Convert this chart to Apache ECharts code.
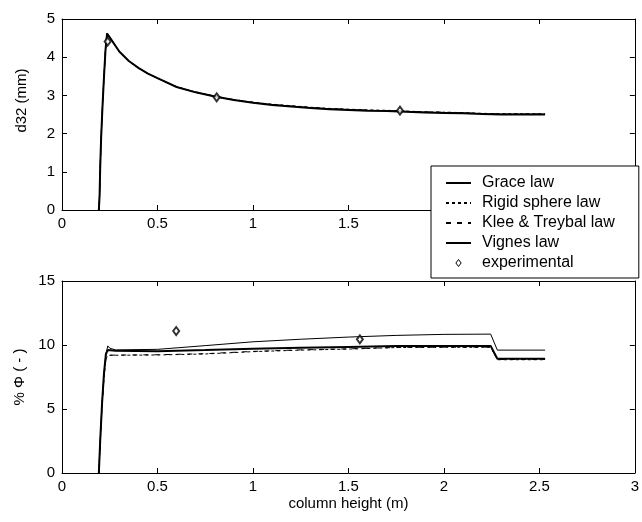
<!DOCTYPE html>
<html>
<head>
<meta charset="utf-8">
<script src="https://cdn.jsdelivr.net/npm/echarts@6/dist/echarts.min.js"></script>
<style>
  html, body { margin: 0; padding: 0; background: #fff; }
  #chart { width: 642px; height: 522px; }
</style>
</head>
<body>
<div id="chart"></div>
<script>
// top panel: d32 versus column height
var d32X = [0.193, 0.197, 0.2, 0.205, 0.212, 0.22, 0.228, 0.236, 0.25, 0.3, 0.35, 0.4, 0.45, 0.5, 0.6, 0.7, 0.8, 0.9, 1.0, 1.1, 1.2, 1.3, 1.4, 1.5, 1.6, 1.7, 1.8, 1.9, 2.0, 2.1, 2.2, 2.3, 2.4, 2.53]
var d32Grace = [0, 0.4, 1.1, 1.9, 2.7, 3.5, 4.2, 4.62, 4.52, 4.15, 3.9, 3.72, 3.57, 3.45, 3.22, 3.08, 2.97, 2.88, 2.81, 2.76, 2.72, 2.68, 2.65, 2.63, 2.61, 2.6, 2.58, 2.56, 2.55, 2.54, 2.52, 2.51, 2.51, 2.51]
var d32Rigid = [0, 0.4, 1.1, 1.9, 2.7, 3.5, 4.2, 4.62, 4.52, 4.15, 3.9, 3.72, 3.57, 3.45, 3.23, 3.09, 2.98, 2.89, 2.82, 2.77, 2.73, 2.69, 2.66, 2.64, 2.62, 2.61, 2.59, 2.57, 2.56, 2.55, 2.53, 2.52, 2.52, 2.52]
var d32Klee = [0, 0.4, 1.1, 1.9, 2.7, 3.5, 4.2, 4.62, 4.52, 4.15, 3.9, 3.72, 3.57, 3.45, 3.22, 3.09, 2.98, 2.89, 2.82, 2.76, 2.72, 2.68, 2.65, 2.63, 2.61, 2.6, 2.58, 2.57, 2.56, 2.54, 2.52, 2.51, 2.51, 2.51]
var d32Vignes = [0, 0.4, 1.1, 1.9, 2.7, 3.5, 4.2, 4.62, 4.52, 4.15, 3.9, 3.72, 3.57, 3.45, 3.22, 3.08, 2.97, 2.88, 2.81, 2.75, 2.71, 2.67, 2.64, 2.62, 2.6, 2.59, 2.57, 2.55, 2.54, 2.53, 2.51, 2.5, 2.5, 2.5]
var d32ExpX = [0.239, 0.81, 1.77]
var d32ExpY = [4.41, 2.95, 2.6]

// bottom panel: hold-up versus column height
var phiX = [0.193, 0.2, 0.21, 0.22, 0.23, 0.24, 0.25, 0.28, 0.5, 0.75, 1.0, 1.25, 1.5, 1.75, 2.0, 2.245, 2.28, 2.53]
var phiGrace = [0, 2.5, 5.5, 7.8, 9.3, 9.93, 9.75, 9.62, 9.66, 9.95, 10.25, 10.45, 10.62, 10.75, 10.83, 10.85, 9.6, 9.6]
var phiRigid = [0, 2.3, 5.3, 7.5, 8.9, 9.2, 9.2, 9.2, 9.22, 9.3, 9.48, 9.6, 9.68, 9.8, 9.82, 9.82, 8.85, 8.85]
var phiKlee = [0, 2.3, 5.3, 7.5, 8.9, 9.2, 9.21, 9.21, 9.24, 9.32, 9.5, 9.62, 9.7, 9.81, 9.83, 9.83, 8.87, 8.87]
var phiVignes = [0, 2.5, 5.5, 7.8, 9.3, 9.6, 9.58, 9.55, 9.52, 9.6, 9.7, 9.78, 9.85, 9.92, 9.93, 9.93, 8.92, 8.92]
var phiExpX = [0.598, 1.56]
var phiExpY = [11.09, 10.44]

var xTicks = ['0', '0.5', '1', '1.5', '2', '2.5', '3']
var names = ['Grace law', 'Rigid sphere law', 'Klee & Treybal law', 'Vignes law', 'experimental']

function pairs(xs, ys) {
  return xs.map(function (x, i) { return [x, ys[i]] })
}

var family = 'Liberation Sans, Arial, sans-serif'
var font = { fontFamily: family, fontSize: 15, color: '#000' }
var black = { onZero: false, lineStyle: { color: '#000', width: 1 } }
var tick = { inside: true, length: 5, lineStyle: { color: '#000' } }

function xAxes(grid, name) {
  return [
    {
      type: 'value', gridIndex: grid, position: 'bottom', min: 0, max: 3, interval: 0.5,
      axisLine: black, splitLine: { show: false }, axisTick: tick,
      axisLabel: Object.assign({ margin: 6, formatter: function (v) { return xTicks[Math.round(v * 2)] } }, font),
      name: name, nameLocation: 'middle', nameGap: 23, nameTextStyle: font
    },
    {
      type: 'value', gridIndex: grid, position: 'top', min: 0, max: 3, interval: 0.5,
      axisLine: black, splitLine: { show: false }, axisTick: tick,
      axisLabel: { show: false }
    }
  ]
}

function yAxes(grid, max, step, name, shift) {
  return [
    {
      type: 'value', gridIndex: grid, position: 'left', min: 0, max: max, interval: step,
      axisLine: black, splitLine: { show: false }, axisTick: tick,
      axisLabel: Object.assign({ margin: 7 }, font),
      name: name, nameLocation: 'middle', nameGap: 33, nameRotate: 90,
      nameTextStyle: Object.assign({}, font, { padding: [0, 0, 0, shift] })
    },
    {
      type: 'value', gridIndex: grid, position: 'right', min: 0, max: max, interval: step,
      axisLine: black, splitLine: { show: false }, axisTick: tick,
      axisLabel: { show: false }
    }
  ]
}

function lines(xi, xs, ys, name, type, width) {
  return {
    name: name, type: 'line', xAxisIndex: xi, yAxisIndex: xi,
    data: pairs(xs, ys), symbol: 'none', animation: false,
    lineStyle: { color: '#000', width: width, type: type },
    itemStyle: { color: '#000' }
  }
}

function exp(xi, xs, ys) {
  return {
    name: 'experimental', type: 'scatter', xAxisIndex: xi, yAxisIndex: xi,
    data: pairs(xs, ys), symbol: 'emptyDiamond', symbolSize: [6, 8], animation: false,
    itemStyle: { color: '#000', borderWidth: 1 }, z: 5
  }
}

var legendData = names.map(function (n) {
  if (n === 'experimental') {
    return { name: n, icon: 'path://M3,0L6,4L3,8L0,4Z', itemStyle: { color: '#fff', borderColor: '#000', borderWidth: 1, opacity: 1 } }
  }
  return { name: n, itemStyle: { opacity: 0 } }
})

var chart = echarts.init(document.getElementById('chart'))
chart.setOption({
  backgroundColor: '#fff',
  animation: false,
  grid: [
    { left: 62, top: 19, width: 575, height: 191 },
    { left: 62, top: 281, width: 575, height: 192 }
  ],
  xAxis: xAxes(0, '').concat(xAxes(1, 'column height (m)')),
  yAxis: yAxes(0, 5, 1, 'd32 (mm)', 28).concat(yAxes(1, 15, 5, '% \u03A6 ( - )', 0)),
  legend: {
    data: legendData,
    orient: 'vertical',
    left: 431, top: 166,
    padding: [9, 24, 7, 14],
    itemWidth: 25, itemHeight: 7, itemGap: 4,
    backgroundColor: '#fff',
    borderColor: '#000', borderWidth: 1,
    textStyle: { fontFamily: family, fontSize: 16, color: '#000', lineHeight: 16, padding: [0, 0, 0, 6] },
    z: 20
  },
  series: [
    lines(0, d32X, d32Grace, names[0], 'solid', 1),
    lines(0, d32X, d32Rigid, names[1], [3, 3], 1),
    lines(0, d32X, d32Klee, names[2], [5, 6], 1),
    lines(0, d32X, d32Vignes, names[3], 'solid', 2),
    exp(0, d32ExpX, d32ExpY),
    lines(2, phiX, phiGrace, names[0], 'solid', 1),
    lines(2, phiX, phiRigid, names[1], [3, 3], 1),
    lines(2, phiX, phiKlee, names[2], [5, 6], 1),
    lines(2, phiX, phiVignes, names[3], 'solid', 2),
    exp(2, phiExpX, phiExpY)
  ]
})
</script>
</body>
</html>
